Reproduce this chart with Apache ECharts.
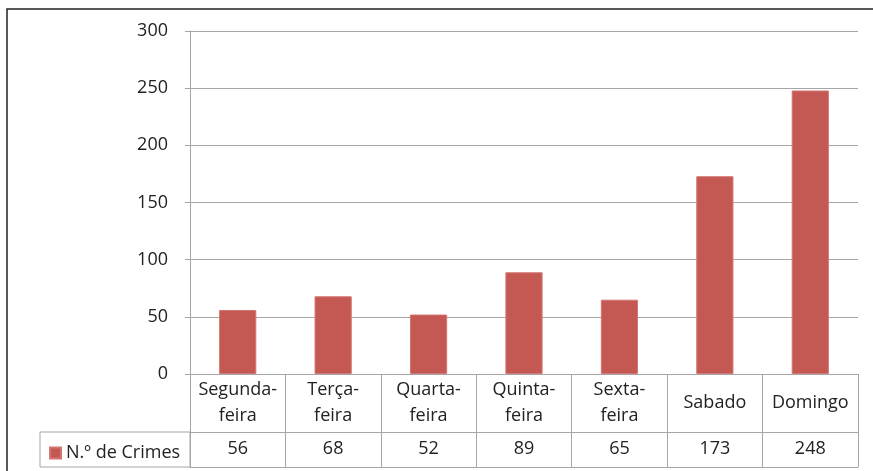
<!DOCTYPE html>
<html>
<head>
<meta charset="utf-8">
<script src="https://cdn.jsdelivr.net/npm/echarts@6/dist/echarts.min.js"></script>
<style>
  html, body { margin: 0; padding: 0; background: #fff; }
  #chart { width: 873px; height: 471px; }
</style>
</head>
<body>
<div id="chart"></div>
<script>
// dados do gráfico
var dias = ['Segunda-\nfeira', 'Terça-\nfeira', 'Quarta-\nfeira', 'Quinta-\nfeira', 'Sexta-\nfeira', 'Sabado', 'Domingo'];
var crimes = [56, 68, 52, 89, 65, 173, 248];
var nomeSerie = 'N.º de Crimes';
var yTicks = [0, 50, 100, 150, 200, 250, 300];

var gridColor = '#a6a6a6';
var fonte = 'Open Sans';

var chart = echarts.init(document.getElementById('chart'));

var option = {
  animation: false,
  backgroundColor: '#fff',
  textStyle: { fontFamily: fonte },
  grid: { left: 190, right: 15, top: 31, bottom: 97, containLabel: false },
  legend: {
    data: [nomeSerie],
    left: 44,
    top: 439,
    icon: 'rect',
    itemWidth: 11,
    itemHeight: 11,
    itemGap: 5,
    textStyle: { fontSize: 18, color: '#222', fontFamily: fonte }
  },
  xAxis: [
    {
      type: 'category',
      data: dias,
      position: 'bottom',
      axisLine: { lineStyle: { color: gridColor } },
      axisTick: { show: true, interval: 0, length: 93, lineStyle: { color: gridColor } },
      axisLabel: {
        interval: 0, margin: 29, align: 'center', verticalAlign: 'middle', lineHeight: 26,
        fontSize: 18, color: '#222', fontFamily: fonte
      }
    },
    {
      type: 'category',
      data: dias,
      position: 'bottom',
      offset: 58,
      axisLine: { show: true, lineStyle: { color: gridColor } },
      axisTick: { show: false },
      axisLabel: {
        interval: 0, margin: 17, align: 'center', verticalAlign: 'middle',
        fontSize: 18, color: '#222', fontFamily: fonte,
        formatter: function (v, i) { return String(crimes[i]); }
      }
    },
    {
      type: 'category',
      data: dias,
      position: 'bottom',
      offset: 93,
      axisLine: { show: true, lineStyle: { color: gridColor } },
      axisTick: { show: false },
      axisLabel: { show: false }
    }
  ],
  yAxis: {
    type: 'value',
    min: yTicks[0],
    max: yTicks[yTicks.length - 1],
    interval: 50,
    axisLine: { show: true, lineStyle: { color: gridColor } },
    axisTick: { show: true, length: 5, lineStyle: { color: gridColor } },
    splitLine: { lineStyle: { color: gridColor } },
    axisLabel: { margin: 22, fontSize: 18, color: '#222', fontFamily: fonte }
  },
  graphic: [
    {
      type: 'rect',
      shape: { x: 7, y: 9, width: 900, height: 500 },
      style: { fill: 'none', stroke: '#222', lineWidth: 1.5 },
      silent: true
    },
    {
      type: 'rect',
      shape: { x: 40, y: 432, width: 150, height: 35 },
      style: { fill: 'none', stroke: gridColor, lineWidth: 1 },
      silent: true
    }
  ],
  series: [
    {
      name: nomeSerie,
      type: 'bar',
      xAxisIndex: 0,
      data: crimes,
      barWidth: '39%',
      itemStyle: { color: '#C45954', borderColor: '#d47773', borderWidth: 1 }
    }
  ]
};

chart.setOption(option);
</script>
</body>
</html>
